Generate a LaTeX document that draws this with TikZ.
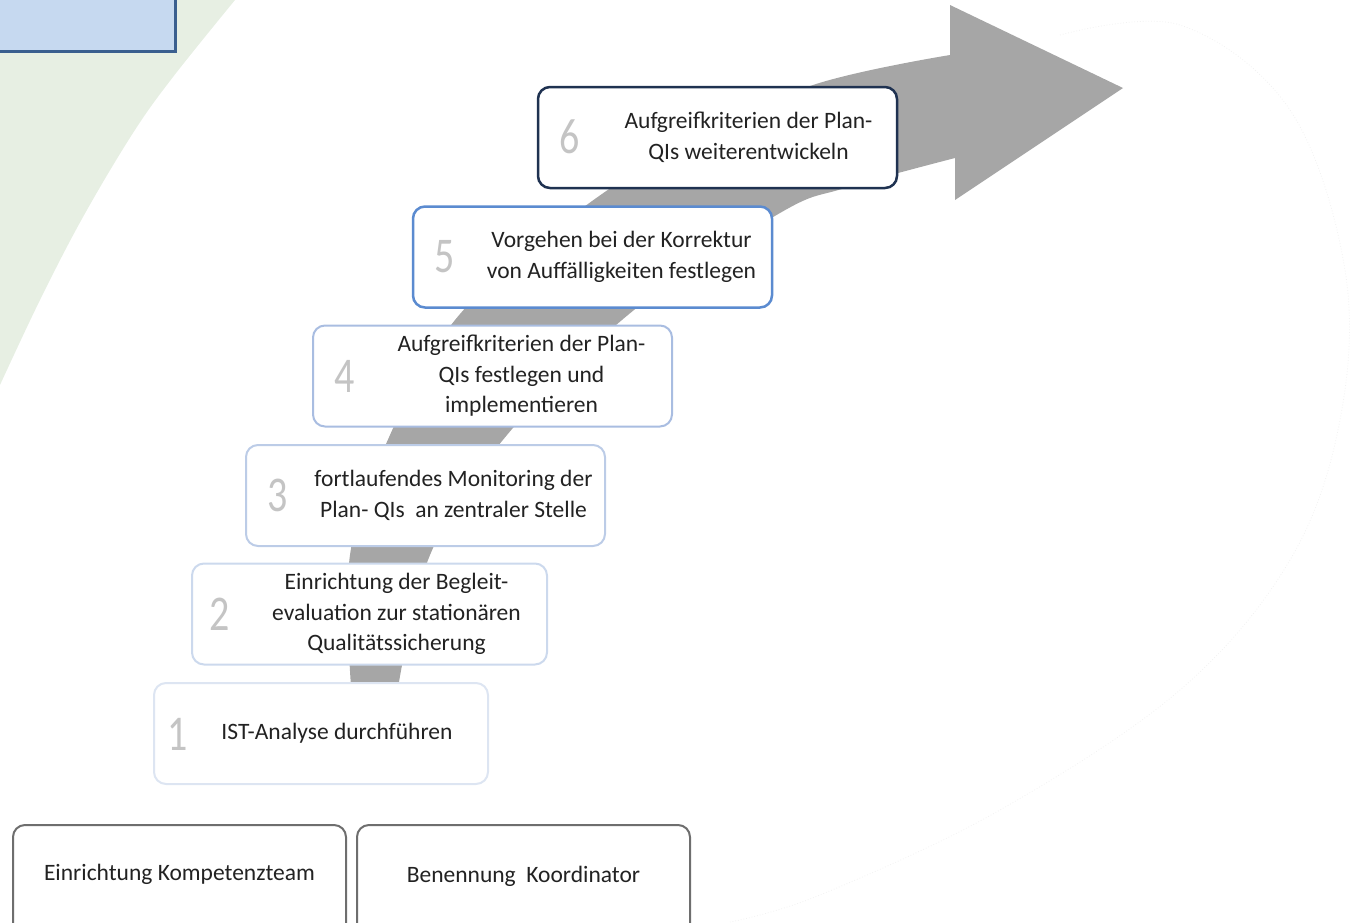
\documentclass[tikz,border=0pt]{standalone}
\usepackage{fontspec}
\setmainfont{Carlito}
\definecolor{bggreen}{HTML}{E7EFE3}
\definecolor{arrowgray}{HTML}{A6A6A6}
\definecolor{navy}{HTML}{1F3251}
\definecolor{bA}{HTML}{5B8BD0}
\definecolor{bB}{HTML}{A9BDE1}
\definecolor{bC}{HTML}{BCCCE7}
\definecolor{bD}{HTML}{CCD9ED}
\definecolor{bE}{HTML}{DDE5F2}
\definecolor{numgray}{HTML}{C4C4C4}
\definecolor{txtcol}{HTML}{222222}
\definecolor{tlfill}{HTML}{C6D9F0}
\definecolor{tlborder}{HTML}{3A5F8F}
\tikzset{
  stepbox/.style={draw, fill=white, rounded corners=12pt, line width=2pt, minimum width=359pt, minimum height=101pt, inner sep=0pt},
  txt/.style={align=center, text=txtcol, font=\fontsize{23.5}{30.5}\selectfont, inner sep=0pt},
  num/.style={text=numgray, inner sep=0pt, font=\fontsize{40}{40}\selectfont},
  basebox/.style={draw=black!57, fill=white, rounded corners=12pt, line width=2pt, minimum width=333pt, minimum height=120pt, inner sep=0pt}
}
\newcommand{\stepnum}[1]{\scalebox{1}[1.25]{#1}}
\begin{document}
\begin{tikzpicture}[x=1pt,y=-1pt]
\useasboundingbox (0,0) rectangle (1355,922);
\clip (0,0) rectangle (1355,922);
% green background
\fill[bggreen] (0,0) -- plot[smooth,tension=0.6] coordinates {(235,0) (173,77) (133,133) (83,217) (40,300) (0,385)} -- cycle;
% faint cloud outline
\draw[black!5, line width=0.8pt, dotted] plot[smooth,tension=0.6] coordinates {(1060,35) (1180,25) (1290,110) (1345,270) (1340,420) (1290,560) (1180,690) (1000,810) (820,895) (730,922)};
% gray arrow
\fill[arrowgray] plot[smooth,tension=0.6] coordinates {(352,700) (350,555) (390,435) (455,320) (560,225) (680,145) (813,85) (950,55)} -- (950,5) -- (1123,88) -- (955,200) -- (955,158)
  -- plot[smooth,tension=0.6] coordinates {(955,158) (845,188) (780,213) (634,310) (507,435) (430,555) (396,700)} -- cycle;
% top-left box
\node[draw=tlborder, fill=tlfill, line width=3pt, minimum width=200pt, minimum height=70pt, inner sep=0pt] (tl) at (75,16) {};
% step boxes
\node[stepbox, draw=navy, line width=2.5pt] (b6) at (717.5,137.5) {};
\node[txt] (t6) at ([xshift=31pt]b6.center) {Aufgreifkriterien der Plan-\\QIs weiterentwickeln};
\node[num] (n6) at ([xshift=33pt,yshift=1pt]b6.west) {\stepnum{6}};

\node[stepbox, draw=bA, line width=2.5pt] (b5) at (592.5,257) {};
\node[txt] (t5) at ([xshift=29pt]b5.center) {Vorgehen bei der Korrektur\\von Auffälligkeiten festlegen};
\node[num] (n5) at ([xshift=33pt]b5.west) {\stepnum{5}};

\node[stepbox, draw=bB] (b4) at (492.5,376) {};
\node[txt] (t4) at ([xshift=29pt]b4.center) {Aufgreifkriterien der Plan-\\QIs festlegen und\\implementieren};
\node[num] (n4) at ([xshift=33pt]b4.west) {\stepnum{4}};

\node[stepbox, draw=bC] (b3) at (425.5,495.5) {};
\node[txt] (t3) at ([xshift=28pt]b3.center) {fortlaufendes Monitoring der\\Plan- QIs~ an zentraler Stelle};
\node[num] (n3) at ([xshift=33pt]b3.west) {\stepnum{3}};

\node[stepbox, draw=bD, minimum width=355pt] (b2) at (369.5,614) {};
\node[txt] (t2) at ([xshift=27pt]b2.center) {Einrichtung der Begleit-\\evaluation zur stationären\\Qualitätssicherung};
\node[num] (n2) at ([xshift=29pt]b2.west) {\stepnum{2}};

\node[stepbox, draw=bE, minimum width=334pt] (b1) at (321,733.5) {};
\node[txt] (t1) at ([xshift=16pt]b1.center) {IST-Analyse durchführen};
\node[num] (n1) at ([xshift=25pt,yshift=-1pt]b1.west) {\stepnum{1}};

% bottom boxes
\node[basebox] (k1) at (179.5,885) {};
\node[txt] (kt1) at ([yshift=11pt]k1.center) {Einrichtung Kompetenzteam};
\node[basebox] (k2) at (523.5,885) {};
\node[txt] (kt2) at ([yshift=9pt]k2.center) {Benennung~ Koordinator};
\end{tikzpicture}
\end{document}
